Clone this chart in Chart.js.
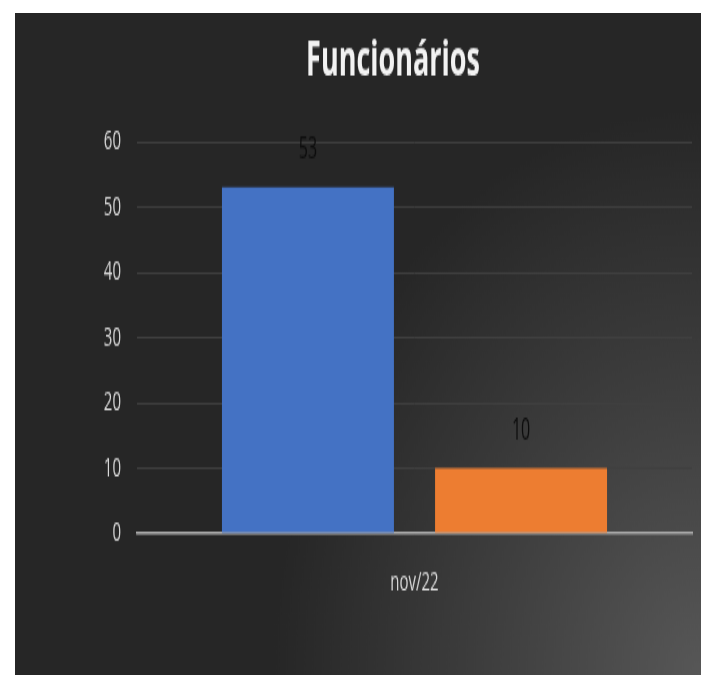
<!DOCTYPE html>
<html lang="pt-BR">
<head>
<meta charset="utf-8">
<title>Funcionários</title>
<script src="https://cdn.jsdelivr.net/npm/chart.js@4"></script>
<style>
  html, body { margin: 0; padding: 0; background: #ffffff; }
  body { width: 701px; height: 675px; position: relative; overflow: hidden; }
  #grafico { position: absolute; left: 15px; top: 13px; width: 686px; height: 662px; }
</style>
</head>
<body>
<canvas id="grafico" width="686" height="360"></canvas>
<script>
// Dados do gráfico
const categorias = ['nov/22'];
const nomesSeries = ['Série 1', 'Série 2'];
const valoresSerie1 = [53];
const valoresSerie2 = [10];
const coresSeries = ['#4472C4', '#ED7D31'];
const ticksY = [0, 10, 20, 30, 40, 50, 60];
const titulo = 'Funcionários';

const fonte = "'Open Sans', 'DejaVu Sans', sans-serif";

// Fundo escuro com brilho no canto inferior direito
const fundoPlugin = {
    id: 'fundo',
    beforeDraw(chart) {
        const { ctx, width, height } = chart;
        ctx.save();
        ctx.fillStyle = '#262626';
        ctx.fillRect(0, 0, width, height);
        // gradiente elíptico (a tela é esticada na vertical)
        ctx.translate(width, height);
        ctx.scale(1, 0.72);
        const grad = ctx.createRadialGradient(0, 0, 0, 0, 0, 430);
        grad.addColorStop(0, '#575757');
        grad.addColorStop(0.5, '#3e3e3e');
        grad.addColorStop(1, 'rgba(38,38,38,1)');
        ctx.fillStyle = grad;
        ctx.fillRect(-width, -height / 0.72, width, height / 0.72);
        ctx.restore();
    }
};

// Título (um pouco deslocado para a direita, como no original)
const tituloPlugin = {
    id: 'tituloDeslocado',
    afterDraw(chart) {
        const { ctx } = chart;
        ctx.save();
        ctx.font = `bold 27px ${fonte}`;
        ctx.fillStyle = '#f2f2f2';
        ctx.textAlign = 'center';
        ctx.textBaseline = 'middle';
        ctx.fillText(titulo, 378, 26);
        ctx.restore();
    }
};

// Rótulos de valor acima das barras
const rotulosPlugin = {
    id: 'rotulos',
    afterDatasetsDraw(chart) {
        const { ctx } = chart;
        ctx.save();
        ctx.font = `16px ${fonte}`;
        ctx.fillStyle = '#0d0d0d';
        ctx.textAlign = 'center';
        ctx.textBaseline = 'middle';
        chart.data.datasets.forEach((ds, i) => {
            chart.getDatasetMeta(i).data.forEach((bar, j) => {
                ctx.fillText(String(ds.data[j]), bar.x, bar.y - 20);
            });
        });
        ctx.restore();
    }
};

const ctx = document.getElementById('grafico').getContext('2d');

const grafico = new Chart(ctx, {
    type: 'bar',
    data: {
        labels: categorias,
        datasets: [
            { label: nomesSeries[0], data: valoresSerie1, backgroundColor: coresSeries[0] },
            { label: nomesSeries[1], data: valoresSerie2, backgroundColor: coresSeries[1] }
        ]
    },
    options: {
        responsive: false,
        animation: false,
        devicePixelRatio: 1,
        categoryPercentage: 0.768,
        barPercentage: 0.807,
        layout: { padding: { left: 0, right: 9, top: 70, bottom: 0 } },
        plugins: {
            legend: { display: false },
            tooltip: { enabled: false },
            title: { display: false }
        },
        scales: {
            x: {
                grid: { display: false },
                border: { display: true, color: '#a6a6a6', width: 1.6 },
                ticks: {
                    color: '#d9d9d9',
                    font: { family: fonte, size: 15 },
                    padding: 10
                },
                afterFit(scale) {
                    scale.height = 77;
                }
            },
            y: {
                min: ticksY[0],
                max: ticksY[ticksY.length - 1],
                afterBuildTicks(scale) {
                    scale.ticks = ticksY.map(v => ({ value: v }));
                },
                afterFit(scale) {
                    scale.width = 122;
                },
                grid: { color: '#404040', lineWidth: 1, drawTicks: false },
                border: { display: false },
                ticks: {
                    color: '#d9d9d9',
                    font: { family: fonte, size: 15 },
                    padding: 16
                }
            }
        }
    },
    plugins: [fundoPlugin, tituloPlugin, rotulosPlugin]
});

// Esticar verticalmente como na imagem original
grafico.canvas.style.width = '686px';
grafico.canvas.style.height = '662px';
</script>
</body>
</html>
